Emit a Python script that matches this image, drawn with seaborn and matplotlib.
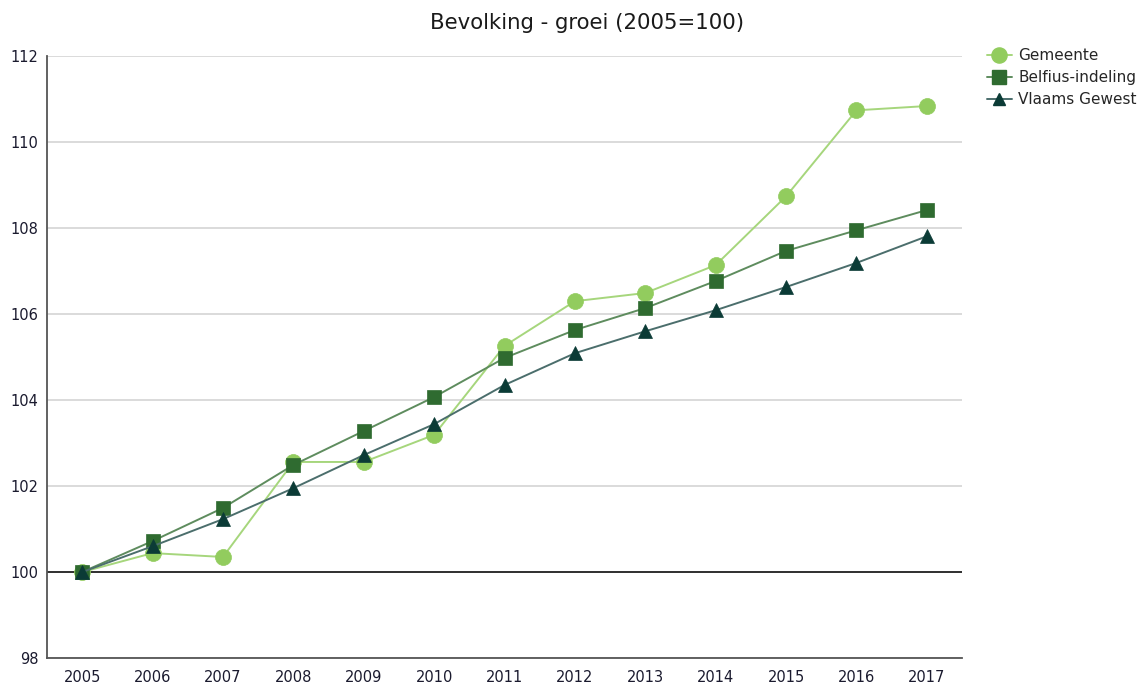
import matplotlib
matplotlib.use("Agg")
import matplotlib.pyplot as plt
import seaborn as sns
import pandas as pd

years = [2005, 2006, 2007, 2008, 2009, 2010, 2011, 2012, 2013, 2014, 2015, 2016, 2017]
gemeente = [100.0, 100.44, 100.35, 102.56, 102.56, 103.19, 105.26, 106.30, 106.49, 107.14, 108.74, 110.74, 110.84]
belfius = [100.0, 100.72, 101.49, 102.49, 103.28, 104.07, 104.98, 105.63, 106.14, 106.77, 107.47, 107.95, 108.42]
vlaams = [100.0, 100.60, 101.23, 101.95, 102.72, 103.44, 104.35, 105.09, 105.60, 106.09, 106.63, 107.19, 107.81]
series_names = ["Gemeente", "Belfius-indeling", "Vlaams Gewest"]
y_ticks = [98, 100, 102, 104, 106, 108, 110, 112]

sns.set_theme(style="white")
plt.rcParams["font.family"] = ["DejaVu Sans"]

df = pd.DataFrame({"jaar": years * 3,
                   "index": gemeente + belfius + vlaams,
                   "reeks": [n for n in series_names for _ in years]})

styles = {
    "Gemeente": dict(marker="o", ms=11.5, mfc="#92CC5E", mec="#92CC5E", line="#A6D67C"),
    "Belfius-indeling": dict(marker="s", ms=10.5, mfc="#2F6B30", mec="#2F6B30", line="#5E8C5E"),
    "Vlaams Gewest": dict(marker="^", ms=9.5, mfc="#0B3B36", mec="#0B3B36", line="#4B6E6C"),
}

fig = plt.figure(figsize=(11.46, 6.89), dpi=100)
ax = fig.add_axes([0.041, 0.045, 0.7985, 0.8735])

ax.yaxis.grid(True, color="#D8D8D8", linewidth=1.3)
ax.set_axisbelow(True)
ax.axhline(100, color="#222222", linewidth=1.3, zorder=1.5)

handles = []
for i, name in enumerate(series_names):
    st = styles[name]
    sub = df[df["reeks"] == name]
    sns.lineplot(data=sub, x="jaar", y="index", ax=ax, color=st["line"],
                 linewidth=1.4, marker=st["marker"], markersize=st["ms"],
                 markerfacecolor=st["mfc"], markeredgecolor=st["mec"],
                 markeredgewidth=0.5, zorder=3 + i, legend=False)
    handles.append(plt.Line2D([], [], color=st["line"], linewidth=1.4,
                              marker=st["marker"], markersize=st["ms"] * 0.95,
                              markerfacecolor=st["mfc"], markeredgecolor=st["mec"]))

ax.set_xlim(2004.5, 2017.5)
ax.set_ylim(98, 112)
ax.set_xticks(years)
ax.set_xticklabels([str(y) for y in years])
ax.set_yticks(y_ticks)
ax.set_yticklabels([str(t) for t in y_ticks])
ax.tick_params(axis="both", length=0, labelsize=10.5, colors="#1A1A2E", pad=9)
ax.tick_params(axis="y", pad=6)
ax.set_xlabel("")
ax.set_ylabel("")

for side in ["top", "right"]:
    ax.spines[side].set_visible(False)
for side in ["left", "bottom"]:
    ax.spines[side].set_color("#555555")
    ax.spines[side].set_linewidth(1.3)

fig.text(0.512, 0.967, "Bevolking - groei (2005=100)", ha="center", va="center",
         fontsize=15.3, color="#1A1A1A")

fig.legend(handles, series_names, loc="upper left", bbox_to_anchor=(0.856, 0.939),
           frameon=False, fontsize=11, handlelength=1.6, handletextpad=0.45,
           labelspacing=0.45, borderaxespad=0)

fig.savefig("out.png", dpi=100)
